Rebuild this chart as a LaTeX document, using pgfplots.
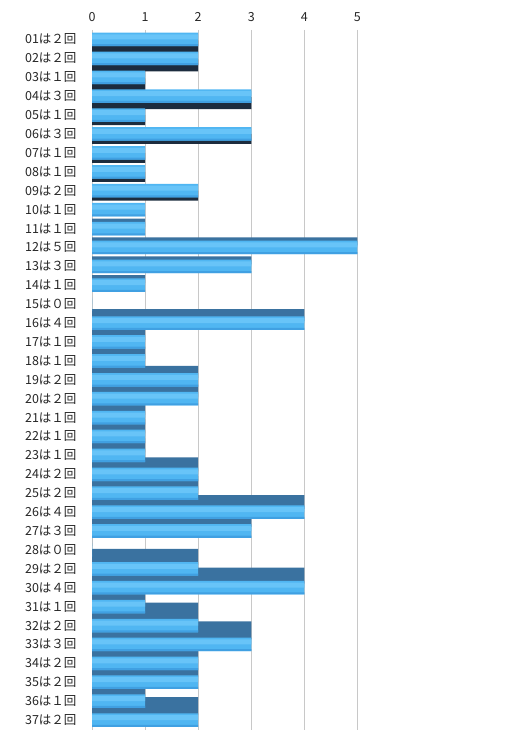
\documentclass[border=0pt]{standalone}
\usepackage{pgfplots}
\pgfplotsset{compat=1.18}
\usepackage{pgfplotstable}
\usepackage{fontspec}
\setmainfont{Noto Sans CJK JP}

\definecolor{face}{RGB}{80,182,242}
\definecolor{facehi}{RGB}{104,196,248}
\definecolor{facelo}{RGB}{64,160,226}
\definecolor{under}{RGB}{28,44,62}
\definecolor{topface}{RGB}{58,114,160}
\definecolor{gridgray}{RGB}{200,200,200}

% count per number
\pgfplotstableread{
row val
1 2
2 2
3 1
4 3
5 1
6 3
7 1
8 1
9 2
10 1
11 1
12 5
13 3
14 1
15 0
16 4
17 1
18 1
19 2
20 2
21 1
22 1
23 1
24 2
25 2
26 4
27 3
28 0
29 2
30 4
31 1
32 2
33 3
34 2
35 2
36 1
37 2
}\counts

\begin{document}
\begin{tikzpicture}
\useasboundingbox (0,0) rectangle (508pt,743pt);
\begin{axis}[
  at={(92pt,13.5pt)}, anchor=south west,
  scale only axis,
  width=284pt, height=699.5pt,
  xbar,
  xmin=0, xmax=5.35,
  ymin=0.5, ymax=37.5,
  y dir=reverse,
  axis line style={draw=none},
  major tick length=0pt,
  xtick={0,1,2,3,4,5},
  xticklabel pos=upper,
  xmajorgrids,
  grid style={gridgray, line width=0.8pt},
  ytick={1,...,37},
  yticklabels={01は２回,02は２回,03は１回,04は３回,05は１回,06は３回,07は１回,08は１回,09は２回,10は１回,11は１回,12は５回,13は３回,14は１回,15は０回,16は４回,17は１回,18は１回,19は２回,20は２回,21は１回,22は１回,23は１回,24は２回,25は２回,26は４回,27は３回,28は０回,29は２回,30は４回,31は１回,32は２回,33は３回,34は２回,35は２回,36は１回,37は２回},
  ticklabel style={font=\fontsize{12.5}{14}\selectfont, text=black!85},
  yticklabel style={xshift=-12pt},
  xticklabel style={yshift=5pt},
  /pgf/number format/assume math mode=true,
]
% depth faces below the bars (upper rows)
\addplot[draw=none, fill=under, bar width=12pt, bar shift=-7pt, restrict y to domain=1:4] table[x=val, y=row] {\counts};
\addplot[draw=none, fill=under, bar width=10pt, bar shift=-5pt, restrict y to domain=5:9] table[x=val, y=row] {\counts};
% depth faces above the bars (lower rows)
\addplot[draw=none, fill=topface, bar width=8pt, bar shift=6pt, restrict y to domain=11:14] table[x=val, y=row] {\counts};
\addplot[draw=none, fill=topface, bar width=12pt, bar shift=8pt, restrict y to domain=16:20] table[x=val, y=row] {\counts};
\addplot[draw=none, fill=topface, bar width=14pt, bar shift=10pt, restrict y to domain=21:26] table[x=val, y=row] {\counts};
\addplot[draw=none, fill=topface, bar width=16pt, bar shift=12pt, restrict y to domain=27:31] table[x=val, y=row] {\counts};
\addplot[draw=none, fill=topface, bar width=18pt, bar shift=14pt, restrict y to domain=32:37] table[x=val, y=row] {\counts};
% front faces: base, soft light band near the top, soft darker edge at the bottom
\addplot[draw=none, fill=face, bar width=13.5pt, bar shift=0pt] table[x=val, y=row] {\counts};
\addplot[draw=none, fill=facehi, bar width=5pt, bar shift=2.5pt] table[x=val, y=row] {\counts};
\addplot[draw=none, fill=facelo, bar width=2pt, bar shift=-5.75pt] table[x=val, y=row] {\counts};
\end{axis}
\end{tikzpicture}
\end{document}
